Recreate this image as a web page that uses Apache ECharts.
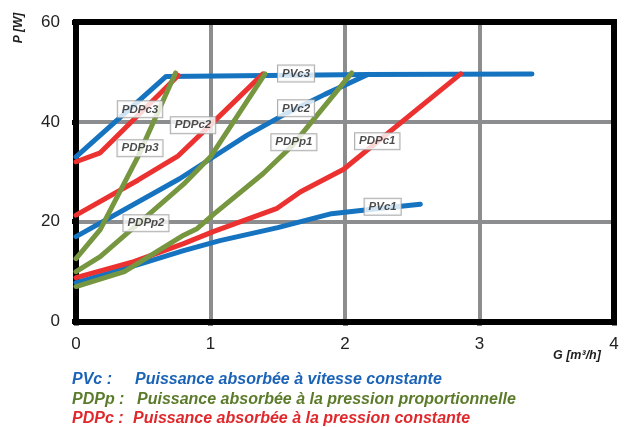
<!DOCTYPE html>
<html>
<head>
<meta charset="utf-8">
<script src="https://cdn.jsdelivr.net/npm/echarts@6/dist/echarts.min.js"></script>
<style>
  html, body { margin: 0; padding: 0; background: #fff; }
  #chart { width: 630px; height: 427px; }
</style>
</head>
<body>
<div id="chart"></div>
<script>
// Flow rate G [m³/h] against absorbed power P [W]
const xTicks = [0, 1, 2, 3, 4];
const yTicks = [0, 20, 40, 60];

// Constant speed curves
const pvc1 = [[0, 7.8], [0.45, 11.3], [0.8, 14.2], [1.07, 16.2], [1.5, 18.8], [1.9, 21.6], [2.2, 22.5], [2.56, 23.5]];
const pvc2 = [[0, 17.0], [0.77, 28.6], [1.0, 32.6], [1.27, 37.3], [1.55, 41.5], [1.85, 45.5], [2.17, 49.5]];
const pvc3 = [[0, 33.0], [0.67, 49.1], [2.17, 49.5], [3.39, 49.6]];

// Proportional pressure curves
const pdpp1 = [[0, 7.0], [0.36, 10.0], [0.8, 17.3], [0.9, 18.6], [1.02, 21.4], [1.39, 29.6], [1.6, 35.0], [2.05, 49.8]];
const pdpp2 = [[0, 10.0], [0.18, 13.0], [0.48, 20.0], [0.8, 27.5], [1.0, 33.0], [1.405, 49.6]];
const pdpp3 = [[0, 12.6], [0.18, 18.4], [0.46, 33.0], [0.74, 49.8]];

// Constant pressure curves
const pdpc1 = [[0, 8.8], [0.43, 12.0], [0.8, 15.6], [1.02, 18.0], [1.49, 22.6], [1.67, 26.0], [1.99, 30.5], [2.86, 49.6]];
const pdpc2 = [[0, 21.3], [0.46, 28.3], [0.76, 33.2], [1.0, 39.4], [1.39, 49.6]];
const pdpc3 = [[0, 32.0], [0.18, 33.8], [0.76, 49.3]];

// Curve name tags, anchored in data units
const tagNames = ['PVc3', 'PVc2', 'PDPp1', 'PDPc3', 'PDPc2', 'PDPp3', 'PDPp2', 'PDPc1', 'PVc1'];
const tagAnchors = [[1.636, 49.7], [1.636, 42.7], [1.62, 35.9], [0.476, 42.5], [0.87, 39.3], [0.476, 34.7], [0.52, 19.7], [2.24, 36.1], [2.28, 23.0]];

// Legend lines
const legendKeys = ['PVc :', 'PDPp :', 'PDPc :'];
const legendTexts = [
  'Puissance absorbée à vitesse constante',
  'Puissance absorbée à la pression proportionnelle',
  'Puissance absorbée à la pression constante'
];

const BLUE = '#1673c0';
const GREEN = '#76963f';
const RED = '#ec3230';
const legendColors = ['#1b63b6', '#5b7b2a', '#e0282c'];
const FONT = '"Liberation Sans", Arial, sans-serif';

const xMin = xTicks[0], xMax = xTicks[xTicks.length - 1], xStep = xTicks[1] - xTicks[0];
const yMin = yTicks[0], yMax = yTicks[yTicks.length - 1], yStep = yTicks[1] - yTicks[0];

function scaleAxis(min, max, step) {
  return { type: 'value', min: min, max: max, interval: step };
}

// Axes that only draw the inner grey grid, below everything else
const gridLineAxis = (min, max, step, pos) => Object.assign(scaleAxis(min, max, step), {
  position: pos, z: 0,
  axisLine: { show: false }, axisTick: { show: false }, axisLabel: { show: false },
  splitLine: { show: true, showMinLine: false, showMaxLine: false, lineStyle: { color: '#8b8d8f', width: 4 } }
});

// Axes that draw the black frame, ticks and tick labels
const frameAxis = (min, max, step, pos, labelled) => Object.assign(scaleAxis(min, max, step), {
  position: pos, z: 1,
  axisLine: { show: true, onZero: false, lineStyle: { color: '#000', width: 6, cap: 'square' } },
  axisTick: { show: labelled, length: 4, inside: false, lineStyle: { color: '#000', width: 5 } },
  axisLabel: { show: labelled, color: '#222', fontSize: 17, fontFamily: FONT, margin: pos === 'left' ? 16 : 14 },
  splitLine: { show: false }
});

function curve(name, data, color) {
  return {
    name: name, type: 'line', data: data, xAxisIndex: 0, yAxisIndex: 0,
    symbol: 'none', z: 2,
    lineStyle: { color: color, width: 5, cap: 'round', join: 'round' }
  };
}

const series = [
  curve('PVc1', pvc1, BLUE), curve('PVc2', pvc2, BLUE), curve('PVc3', pvc3, BLUE),
  curve('PDPc1', pdpc1, RED), curve('PDPc2', pdpc2, RED), curve('PDPc3', pdpc3, RED),
  curve('PDPp1', pdpp1, GREEN), curve('PDPp2', pdpp2, GREEN), curve('PDPp3', pdpp3, GREEN),
  {
    name: 'tags', type: 'scatter', xAxisIndex: 0, yAxisIndex: 0, z: 10,
    symbolSize: 0, silent: true,
    data: tagAnchors.map((p, i) => ({ value: p, name: tagNames[i] })),
    label: {
      show: true, position: 'inside', formatter: '{b}',
      fontFamily: FONT, fontSize: 11.5, fontWeight: 'bold', fontStyle: 'italic', color: '#1e1e1e',
      backgroundColor: '#fff', borderColor: '#9a9a9a', borderWidth: 1, padding: [2, 4, 2, 4]
    }
  }
];

const titleStyle = { fontFamily: FONT, fontWeight: 'bold', fontStyle: 'italic', fill: '#1e1e1e' };
const graphic = [
  {
    type: 'text', x: 19, y: 28, rotation: Math.PI / 2,
    style: Object.assign({ text: 'P [W]', fontSize: 12, textAlign: 'center', textVerticalAlign: 'middle' }, titleStyle)
  },
  {
    type: 'text', x: 553, y: 356,
    style: Object.assign({ text: 'G [m³/h]', fontSize: 12.5, textAlign: 'left', textVerticalAlign: 'middle' }, titleStyle)
  }
];
const legendMid = [380, 400, 419];
const legendTextLeft = [135, 137, 133];
legendKeys.forEach((k, i) => {
  const base = { fontFamily: FONT, fontSize: 16, fontWeight: 'bold', fontStyle: 'italic', fill: legendColors[i], textVerticalAlign: 'middle' };
  graphic.push({ type: 'text', x: 72, y: legendMid[i], style: Object.assign({ text: k }, base) });
  graphic.push({ type: 'text', x: legendTextLeft[i], y: legendMid[i], style: Object.assign({ text: legendTexts[i] }, base) });
});

const chart = echarts.init(document.getElementById('chart'), null, { renderer: 'canvas' });
chart.setOption({
  backgroundColor: '#fff',
  animation: false,
  grid: { left: 76, right: 16, top: 22, bottom: 105.5, containLabel: false },
  xAxis: [
    gridLineAxis(xMin, xMax, xStep, 'bottom'),
    frameAxis(xMin, xMax, xStep, 'bottom', true),
    frameAxis(xMin, xMax, xStep, 'top', false)
  ],
  yAxis: [
    gridLineAxis(yMin, yMax, yStep, 'left'),
    frameAxis(yMin, yMax, yStep, 'left', true),
    frameAxis(yMin, yMax, yStep, 'right', false)
  ],
  series: series,
  graphic: graphic
});
</script>
</body>
</html>
